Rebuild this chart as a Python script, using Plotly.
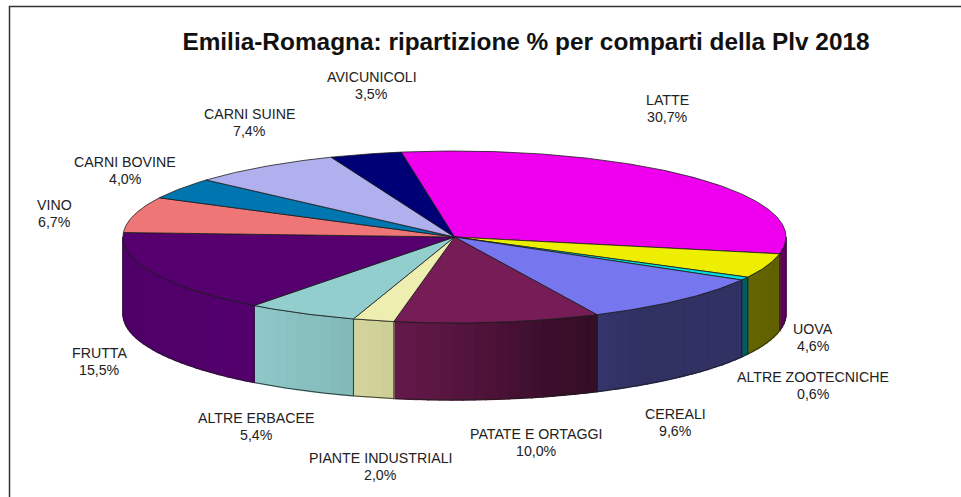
import numpy as np
import plotly.graph_objects as go

# --- data ---
categories = ["LATTE", "UOVA", "ALTRE ZOOTECNICHE", "CEREALI", "PATATE E ORTAGGI",
              "PIANTE INDUSTRIALI", "ALTRE ERBACEE", "FRUTTA", "VINO", "CARNI BOVINE",
              "CARNI SUINE", "AVICUNICOLI"]
values = [30.7, 4.6, 0.6, 9.6, 10.0, 2.0, 5.4, 15.5, 6.7, 4.0, 7.4, 3.5]
title_text = "Emilia-Romagna: ripartizione % per comparti della Plv 2018"

# --- styles / layout ---
top_colors = ["#EE00EE", "#EEEE00", "#00DDDD", "#7676EE", "#761C56", "#EEEEB0",
              "#92CECE", "#560070", "#EE7676", "#0076B0", "#B0B0EE", "#000076"]
label_pos = [(667, 108.5), (813, 337), (813, 385.5), (675.5, 422), (536, 442.5), (380, 466.5),
             (256, 426), (99, 361), (54, 213.5), (125, 170.5), (249, 122.5), (371.5, 85)]
CX, CY, RX, RY, DEPTH = 454.5, 237.0, 331.5, 86.0, 77.0
START_DEG = -9.25
EDGE = "#1c1c1c"
LINE_GAP = 8.5
# wall shading as a function of horizontal position on the ellipse
shade_u = [-1.0, -0.6, -0.18, 0.30, 0.55, 0.9, 1.0]
shade_f = [0.92, 0.97, 0.86, 0.50, 0.41, 0.42, 0.40]


def rgb(hex_color):
    return tuple(int(hex_color[i:i + 2], 16) for i in (1, 3, 5))


def ell(a_deg, dz=0.0):
    a = np.radians(a_deg)
    return CX + RX * np.sin(a), CY - RY * np.cos(a) + dz


fig = go.Figure()


def poly(xs, ys, fill=None, line=None, width=0.8):
    fig.add_trace(go.Scatter(
        x=list(xs), y=list(ys), mode="lines",
        fill="toself" if fill else "none",
        fillcolor=fill,
        line=dict(color=line or fill, width=width),
        hoverinfo="skip", showlegend=False))


edges = np.concatenate([[0], np.cumsum(values)]) / sum(values) * 360 + START_DEG

# walls: only the front half (90..270 deg clockwise from top) is visible
for v, c, a0, a1 in zip(values, top_colors, edges[:-1], edges[1:]):
    lo, hi = max(a0, 90), min(a1, 270)
    if hi <= lo:
        continue
    n = max(1, int((hi - lo) / 2.0))
    steps = np.linspace(lo, hi, n + 1)
    r, g, b = rgb(c)
    for s0, s1 in zip(steps[:-1], steps[1:]):
        f = np.interp(np.sin(np.radians((s0 + s1) / 2)), shade_u, shade_f)
        col = f"rgb({r * f:.0f},{g * f:.0f},{b * f:.0f})"
        x0, y0 = ell(s0)
        x1, y1 = ell(s1)
        x2, y2 = ell(s1, DEPTH)
        x3, y3 = ell(s0, DEPTH)
        poly([x0, x1, x2, x3, x0], [y0, y1, y2, y3, y0], fill=col, width=1.4)
    # wall outline
    aa = np.linspace(lo, hi, 60)
    xt, yt = ell(aa)
    xb, yb = ell(aa, DEPTH)
    poly(np.r_[xt, xb[::-1], xt[0]], np.r_[yt, yb[::-1], yt[0]], line=EDGE, width=0.8)

# top faces
for c, a0, a1 in zip(top_colors, edges[:-1], edges[1:]):
    aa = np.linspace(a0, a1, max(3, int((a1 - a0) * 2)))
    xs, ys = ell(aa)
    poly(np.r_[CX, xs, CX], np.r_[CY, ys, CY], fill=c, line=EDGE, width=0.8)

fig.add_shape(type="path", path="M 9.5 497 L 9.5 6.5 L 961 6.5",
              line=dict(color="#333333", width=1.5))

label_font = dict(family="Liberation Sans", size=14.2, color="#222222")
for name, v, (lx, ly) in zip(categories, values, label_pos):
    fig.add_annotation(x=lx, y=ly - LINE_GAP, text=name, showarrow=False,
                       xanchor="center", yanchor="middle", font=label_font)
    fig.add_annotation(x=lx, y=ly + LINE_GAP, text=f"{v:.1f}%".replace(".", ","), showarrow=False,
                       xanchor="center", yanchor="middle", font=label_font)

fig.update_layout(
    width=961, height=497, autosize=False,
    margin=dict(l=0, r=0, t=0, b=0),
    paper_bgcolor="white", plot_bgcolor="white", showlegend=False,
    title=dict(text=f"<b>{title_text}</b>", x=526 / 961, y=1 - 41 / 497,
               xanchor="center", yanchor="middle",
               font=dict(family="Liberation Sans", size=24.4, color="#111111")),
    xaxis=dict(range=[0, 961], visible=False, fixedrange=True),
    yaxis=dict(range=[497, 0], visible=False, fixedrange=True),
)
fig.write_html("out.html", config={"displayModeBar": False},
               post_script="document.body.style.margin='0';document.body.style.overflow='hidden';")
